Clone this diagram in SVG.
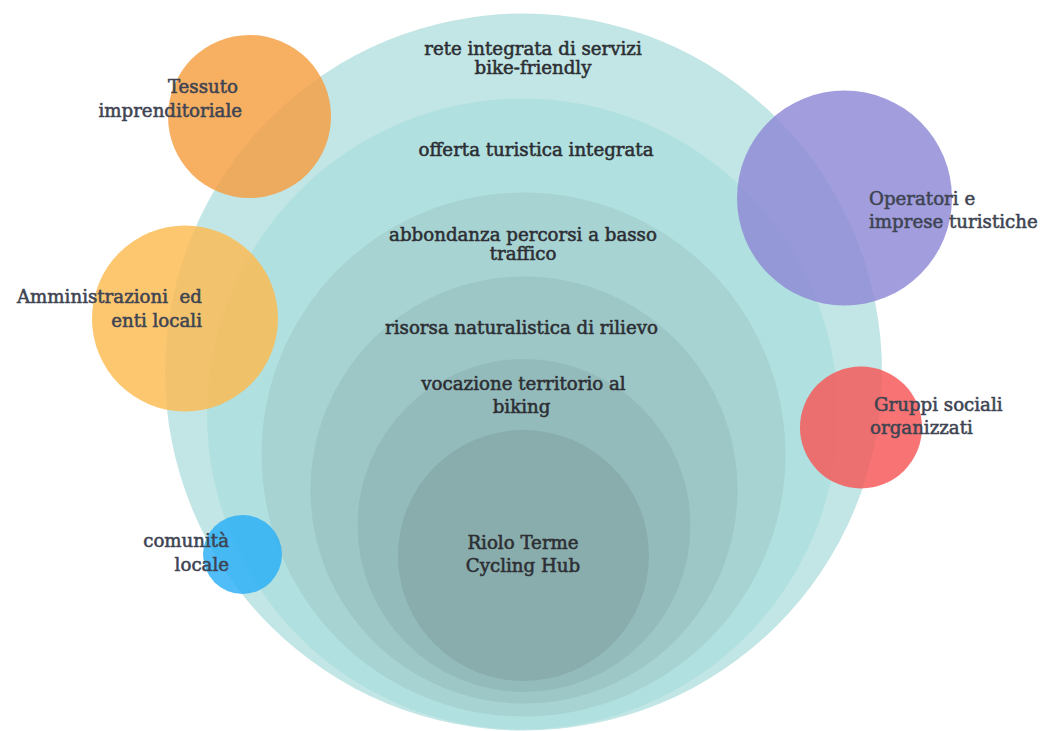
<svg xmlns="http://www.w3.org/2000/svg" width="1043" height="731" viewBox="0 0 1043 731">
  <style>
    .ring { stroke: none; }
    .lbl { font-family: "DejaVu Serif", "Liberation Serif", serif; font-size: 18.2px; stroke-width: 0.55px; }
    .in { fill: #2c2e33; stroke: #2c2e33; text-anchor: middle; }
    .side { fill: #3e4452; stroke: #3e4452; }
    .r { text-anchor: end; }
    .l { text-anchor: start; }
    .bub { opacity: 0.82; }
  </style>
  <rect width="1043" height="731" fill="#ffffff"/>

  <g id="ring-rete">
    <circle class="ring" cx="523.5" cy="372" r="358.5" fill="#c2e6e5"/>
  </g>
  <g id="ring-offerta">
    <circle class="ring" cx="522.5" cy="414" r="315.5" fill="#b0e0df"/>
  </g>
  <g id="ring-abbondanza">
    <circle class="ring" cx="523.5" cy="454.5" r="262" fill="#a7d3d3"/>
  </g>
  <g id="ring-risorsa">
    <circle class="ring" cx="524" cy="490" r="213.5" fill="#9dc7c7"/>
  </g>
  <g id="ring-vocazione">
    <circle class="ring" cx="524" cy="525.5" r="166.5" fill="#94bbbb"/>
  </g>
  <g id="ring-hub">
    <circle class="ring" cx="523.5" cy="555.5" r="125.5" fill="#89acac"/>
  </g>

  <g id="node-tessuto">
    <circle class="bub" cx="249.5" cy="116.5" r="81.5" fill="#f59e3f"/>
  </g>
  <g id="node-amministrazioni">
    <circle class="bub" cx="185" cy="318.5" r="93" fill="#fcbb50"/>
  </g>
  <g id="node-comunita">
    <circle class="bub" cx="242.5" cy="554.5" r="39.5" fill="#2aaff7"/>
  </g>
  <g id="node-operatori">
    <circle class="bub" cx="844.5" cy="198" r="107.5" fill="#8d87d5"/>
  </g>
  <g id="node-gruppi">
    <circle class="bub" cx="861" cy="427.5" r="61" fill="#f65656"/>
  </g>

  <g id="connectors"/>

  <g id="labels-rings" class="lbl">
    <text class="in" x="533" y="55">rete integrata di servizi</text>
    <text class="in" x="533" y="74">bike-friendly</text>
    <text class="in" x="536" y="156">offerta turistica integrata</text>
    <text class="in" x="523" y="241">abbondanza percorsi a basso</text>
    <text class="in" x="523" y="260">traffico</text>
    <text class="in" x="521.5" y="334">risorsa naturalistica di rilievo</text>
    <text class="in" x="523.5" y="390">vocazione territorio al</text>
    <text class="in" x="521.5" y="413">biking</text>
    <text class="in" x="523" y="549">Riolo Terme</text>
    <text class="in" x="523" y="572">Cycling Hub</text>
  </g>

  <g id="labels-nodes" class="lbl">
    <text class="side r" x="238" y="93">Tessuto</text>
    <text class="side r" x="242" y="117">imprenditoriale</text>
    <text class="side r" x="202" y="303" xml:space="preserve">Amministrazioni  ed</text>
    <text class="side r" x="202" y="327">enti locali</text>
    <text class="side r" x="229" y="547">comunità</text>
    <text class="side r" x="229" y="571">locale</text>
    <text class="side l" x="869" y="205">Operatori e</text>
    <text class="side l" x="869" y="228">imprese turistiche</text>
    <text class="side l" x="874" y="411">Gruppi sociali</text>
    <text class="side l" x="870" y="434">organizzati</text>
  </g>
</svg>
